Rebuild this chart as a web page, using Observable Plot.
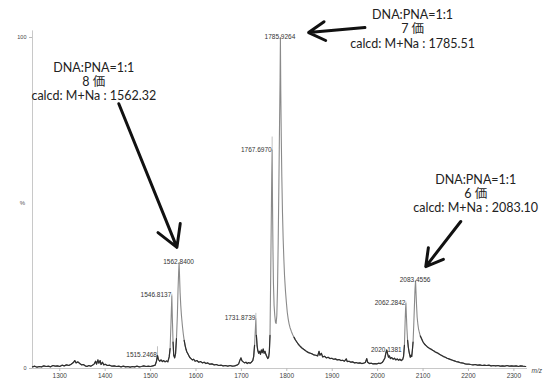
<!DOCTYPE html>
<html><head><meta charset="utf-8">
<script src="https://cdn.jsdelivr.net/npm/d3@7"></script>
<script src="https://cdn.jsdelivr.net/npm/@observablehq/plot@0.6"></script>
<style>body{margin:0;background:#fff} svg{display:block}</style>
</head><body><div id="chart"></div>
<script>
// ---- spectrum data: [m/z, relative intensity %] ----
const baselineLow = [[1240,0.5],[1245,0.7],[1250,0.4],[1255,0.6],[1260,0.5],[1265,0.8],[1270,0.6],[1275,0.7],[1280,0.5],[1285,0.9],[1290,0.7],[1295,0.8],[1300,0.6],[1305,1.0],[1310,0.8],[1315,1.1],[1320,0.9],[1325,1.3],[1330,1.8],[1333,2.4],[1336,1.7],[1340,2.0],[1344,1.5],[1348,1.1],[1352,1.2],[1356,0.8],[1360,0.6],[1364,0.9],[1368,0.7],[1372,1.0],[1376,1.4],[1379,2.2],[1381,1.3],[1384,2.6],[1386,1.6],[1389,2.4],[1391,1.2],[1394,1.9],[1397,1.1],[1400,1.3],[1405,0.9],[1410,1.0],[1415,0.7],[1420,0.8],[1425,0.6],[1430,0.7],[1435,0.5],[1440,0.7],[1445,0.5],[1450,0.6],[1455,0.4],[1460,0.6],[1465,0.5],[1470,0.7],[1475,0.5],[1480,0.6],[1485,0.8],[1490,0.6],[1495,0.7],[1500,0.6],[1505,0.8],[1510,1.0]];
const cluster8 = [[1513,2.2],[1515.2,4.0],[1517,2.8],[1520,2.2],[1523,2.6],[1526,2.1],[1529,2.4],[1532,2.0],[1535,2.3],[1538,2.0],[1541,3.5],[1543,6],[1545,14],[1546.8,22],[1548,15],[1549.5,8],[1551,4],[1553,3.2],[1555,4.5],[1557,9],[1559,16],[1560.5,24],[1561.8,29],[1562.8,32],[1563.8,28],[1565,23],[1566.5,19],[1568,16],[1570,13],[1572,10.5],[1574,8.5],[1576,7],[1578,5.8],[1580,5],[1583,4.2],[1586,3.4],[1589,3.0],[1592,2.6],[1595,2.8],[1598,2.2]];
const baselineMid = [[1602,2.4],[1606,1.9],[1610,2.1],[1614,1.7],[1618,1.9],[1622,1.5],[1626,1.7],[1630,1.3],[1635,1.4],[1640,1.1],[1645,1.2],[1650,0.9],[1655,1.0],[1660,0.8],[1665,0.9],[1670,0.7],[1675,0.9],[1680,0.7],[1685,0.8],[1690,1.0],[1694,1.4],[1697,2.6],[1699,3.2],[1701,2.4],[1704,2.0],[1707,1.7],[1710,1.9],[1713,1.5],[1716,1.8],[1719,1.6],[1722,1.9]];
const cluster7 = [[1725,2.4],[1727,3.6],[1729,7],[1730.8,12],[1731.9,15],[1733,10],[1734.5,7],[1736,5.5],[1738,4.6],[1740,5.2],[1742,4.3],[1744,5.6],[1746,4.8],[1748,5.9],[1750,4.6],[1752,5.2],[1754,4.2],[1756,3.6],[1758,3.0],[1760,3.4],[1761.5,5],[1763,10],[1764.5,28],[1765.8,45],[1766.8,58],[1767.7,66],[1768.5,50],[1769.5,36],[1770.5,26],[1772,19],[1773.5,16],[1775,14],[1776.5,13.6],[1778,16],[1779.5,24],[1781,38],[1782.5,55],[1784,74],[1785.2,88],[1785.9,100],[1786.7,84],[1787.8,70],[1789,58],[1790.5,47],[1792,39],[1793.5,33],[1795,28],[1797,23.5],[1799,20],[1801,17],[1803,15],[1805,13.5],[1807,12.4],[1810,11.2],[1813,10.2],[1816,9.4],[1819,8.6],[1822,8],[1825,7.4],[1828,6.9],[1831,6.5],[1834,6.1],[1837,5.8],[1840,5.5],[1844,5.1],[1848,4.8]];
const baselineTail = [[1852,4.6],[1856,4.4],[1860,4.1],[1864,4.0],[1868,3.8],[1871,5.2],[1873,4.0],[1876,4.6],[1879,3.5],[1883,3.7],[1887,3.2],[1891,3.4],[1895,3.0],[1899,3.1],[1903,2.8],[1907,2.9],[1911,2.6],[1915,2.7],[1919,2.4],[1923,2.5],[1927,2.2],[1931,2.9],[1933,2.1],[1937,2.2],[1941,1.9],[1945,2.0],[1949,1.7],[1953,1.8],[1957,1.6],[1961,1.7],[1965,1.5],[1969,1.6],[1973,1.8],[1976,3.0],[1978,1.9],[1982,1.5],[1986,1.6],[1990,1.4],[1994,1.5],[1998,1.4],[2002,1.6],[2006,1.5],[2010,1.8]];
const cluster6 = [[2013,2.4],[2016,3.2],[2018,4.6],[2020.1,5.6],[2022,4.4],[2024,3.4],[2026,3.8],[2028,3.0],[2031,3.3],[2034,2.8],[2037,3.1],[2040,2.6],[2043,2.9],[2046,2.5],[2049,2.8],[2052,2.4],[2055,2.7],[2057,3.6],[2059,7],[2060.5,14],[2061.5,18],[2062.3,19.6],[2063.3,16],[2064.5,12],[2066,8.5],[2067.5,6.5],[2069,5.2],[2070.5,4.2],[2072,3.4],[2073.5,4.0],[2075,3.6],[2076.5,5.5],[2078,8],[2079.5,13],[2081,19],[2082.3,24],[2083.5,26.5],[2084.5,23],[2085.7,19],[2087,15.5],[2088.5,13.5],[2090,12],[2092,10.8],[2094,9.8],[2096,9.2],[2098,8.6],[2100,8.0],[2103,7.4],[2106,7.0],[2109,6.6],[2112,6.3],[2115,6.0],[2118,5.8],[2121,5.5],[2124,5.3],[2127,5.0],[2130,4.8],[2133,4.6]];
const baselineHigh = [[2137,4.2],[2141,3.9],[2145,3.6],[2149,3.4],[2153,3.1],[2157,2.9],[2161,2.7],[2165,2.5],[2169,2.3],[2173,2.1],[2177,2.0],[2181,1.8],[2185,1.7],[2189,1.6],[2193,1.4],[2197,1.3],[2201,1.3],[2205,1.2],[2210,1.1],[2215,1.2],[2220,1.0],[2225,1.1],[2230,0.9],[2235,1.0],[2240,0.9],[2245,1.0],[2250,0.8],[2255,0.9],[2260,0.8],[2265,0.9],[2270,0.7],[2275,0.8],[2280,0.7],[2285,0.9],[2290,0.7],[2295,0.8],[2300,0.7],[2305,0.8],[2310,0.6],[2315,0.8],[2320,0.7],[2326,0.6]];

// ---- peak labels ----
const peakMz = [1515.2468, 1546.8137, 1562.8400, 1731.8739, 1767.6970, 1785.9264, 2020.1381, 2062.2842, 2083.4556];
const peakIntensity = [4.0, 22, 32, 15, 66, 100, 5.6, 19.6, 26.5];

// ---- annotations ----
const annotationText = [
  "DNA:PNA=1:1\n8 価\ncalcd: M+Na : 1562.32",
  "DNA:PNA=1:1\n7 価\ncalcd: M+Na : 1785.51",
  "DNA:PNA=1:1\n6 価\ncalcd: M+Na : 2083.10"
];
const annotationMz = [1375, 2077, 2216];
const annotationIntensity = [86.7, 102.7, 52.9];
const arrowFromMz = [1430, 1972, 2183];
const arrowFromIntensity = [80, 103, 44.4];
const arrowToMz = [1558, 1848, 2106];
const arrowToIntensity = [36.6, 101.5, 30.8];

// ---- axes ----
const xTicks = [1300, 1400, 1500, 1600, 1700, 1800, 1900, 2000, 2100, 2200, 2300];
const yTicks = [0, 100];
const xDomain = [1240, 2330];
const yDomain = [0, 100];

// ---- layout ----
const W = 549, H = 383, mTop = 37, mBottom = 15, mLeft = 32, mRight = 22;
const pxPerPct = (H - mTop - mBottom) / 100;
const labelSide = ["left","left","center","left","left","center","center","left","center"];
const labelLift = [12, 5, 5, 9, 16.5, 4.5, 2.5, 5, 6];
const labelDx = [1, 1, 0, 1, 1, 1, 0, -4, 0];
const darkBelow = 10; // baseline noise drawn darker than the peak bodies

const spectrum = [...baselineLow, ...cluster8, ...baselineMid, ...cluster7, ...baselineTail, ...cluster6, ...baselineHigh]
  .map(([m, i]) => ({m, i}));
const labels = peakMz.map((m, k) => ({m, i: peakIntensity[k], side: labelSide[k], lift: labelLift[k], dx: labelDx[k]}));
const leftLabels = labels.filter(d => d.side === "left");
const centerLabels = labels.filter(d => d.side === "center");
const anns = annotationText.map((t, k) => ({t, x: annotationMz[k], y: annotationIntensity[k],
  x1: arrowFromMz[k], y1: arrowFromIntensity[k], x2: arrowToMz[k], y2: arrowToIntensity[k]}));

const font = "'Liberation Sans', Arial, sans-serif";
const annFont = "Lato, 'Noto Sans CJK JP', sans-serif";
const labelOpts = {x: "m", y: "i", text: d => d.m.toFixed(4), dx: d => d.dx, fontSize: 6.5, fill: "#333"};

const chart = Plot.plot({
  width: W, height: H,
  marginTop: mTop, marginBottom: mBottom, marginLeft: mLeft, marginRight: mRight,
  x: {domain: xDomain},
  y: {domain: yDomain},
  style: {fontFamily: font, background: "#fff"},
  marks: [
    Plot.ruleY([0], {stroke: "#c8c8c8", strokeWidth: 1}),
    Plot.ruleX([xDomain[0]], {y1: 0, y2: 102, stroke: "#c8c8c8"}),
    Plot.axisX(xTicks, {tickSize: 3, tickPadding: 2, fontSize: 6.5, stroke: "#bbb", fill: "#444", label: null, tickFormat: d => String(d)}),
    Plot.axisY(yTicks, {tickSize: 3, tickPadding: 3, fontSize: 5.5, stroke: "#bbb", fill: "#444", label: null, tickFormat: d => String(d)}),
    Plot.text(["%"], {x: xDomain[0], y: 50, dx: -10, fontSize: 6, fill: "#555"}),
    Plot.text(["m/z"], {x: xDomain[1], y: 0, dx: 4, dy: 2, textAnchor: "start", fontSize: 6.5, fontStyle: "italic", fill: "#444"}),
    Plot.line(spectrum, {x: "m", y: "i", stroke: "#8a8a8a", strokeWidth: 1.1}),
    Plot.line(spectrum, {x: "m", y: d => d.i <= darkBelow ? d.i : NaN, stroke: "#2e2e2e", strokeWidth: 1.2}),
    Plot.link(leftLabels, {
      x1: "m", x2: "m", y1: "i", y2: d => d.i + (d.lift - 3) / pxPerPct, stroke: "#999", strokeWidth: 0.6}),
    Plot.text(leftLabels, {...labelOpts, textAnchor: "end", dy: d => -d.lift}),
    Plot.text(centerLabels, {...labelOpts, textAnchor: "middle", dy: d => -d.lift}),
    Plot.arrow(anns, {x1: "x1", y1: "y1", x2: "x2", y2: "y2", stroke: "#111", strokeWidth: 3, headLength: 12}),
    Plot.text(anns, {x: "x", y: "y", text: "t", fontSize: 12.5, fontFamily: annFont, fill: "#222", lineHeight: 1.15})
  ]
});
document.getElementById("chart").appendChild(chart);
</script>
</body></html>
